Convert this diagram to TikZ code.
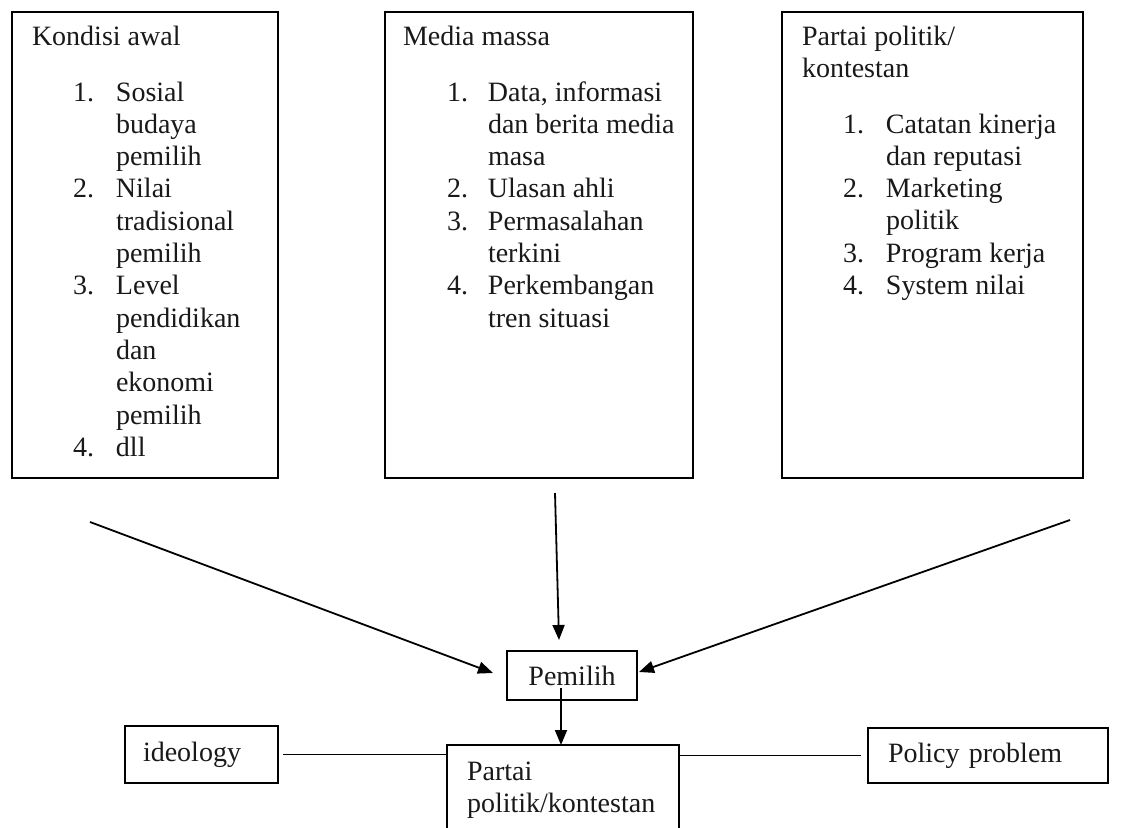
\documentclass[tikz,border=0pt]{standalone}
\usepackage{fontspec}
\setmainfont{Liberation Serif}
\usetikzlibrary{arrows.meta}
\begin{document}
\begin{tikzpicture}[x=1pt,y=-1pt,
  every node/.style={inner sep=0pt, outer sep=0pt, font=\fontsize{28}{32.3}\selectfont, text=black!90},
  bigbox/.style={draw, line width=1.6pt, anchor=north west},
  smallbox/.style={draw, line width=1.6pt},
  lbl/.style={anchor=base west, align=left},
  arr/.style={line width=1.8pt, -{Triangle[length=15pt,width=12pt]}},
  conn/.style={line width=1.6pt}]
\fill[white] (0,0) rectangle (1132,827);
\useasboundingbox (0,0) rectangle (1132,827);
% top boxes
\node[bigbox, minimum width=266pt, minimum height=466pt] (kondisi) at (12,12) {};
\node[bigbox, minimum width=308pt, minimum height=466pt] (media) at (385,12) {};
\node[bigbox, minimum width=301pt, minimum height=466pt] (partaiTop) at (782,12) {};
% titles
\node[lbl] (t1) at (32,45) {Kondisi awal};
\node[lbl] (t2) at (403,45) {Media massa};
\node[lbl] (t3) at (802,45) {\begin{tabular}[t]{@{}l@{}}Partai politik/\\kontestan\end{tabular}};
% lists
\node[lbl] (l1) at (73,101) {\begin{tabular}[t]{@{}p{43pt}@{}l@{}}
1. & Sosial\\ & budaya\\ & pemilih\\
2. & Nilai\\ & tradisional\\ & pemilih\\
3. & Level\\ & pendidikan\\ & dan\\ & ekonomi\\ & pemilih\\
4. & dll\end{tabular}};
\node[lbl] (l2) at (447,101) {\begin{tabular}[t]{@{}p{41pt}@{}l@{}}
1. & Data, informasi\\ & dan berita media\\ & masa\\
2. & Ulasan ahli\\
3. & Permasalahan\\ & terkini\\
4. & Perkembangan\\ & tren situasi\end{tabular}};
\node[lbl] (l3) at (843,133) {\begin{tabular}[t]{@{}p{43pt}@{}l@{}}
1. & Catatan kinerja\\ & dan reputasi\\
2. & Marketing\\ & politik\\
3. & Program kerja\\
4. & System nilai\end{tabular}};
% lower nodes
\node[smallbox, minimum width=130pt, minimum height=49pt] (pemilih) at (572,675.5) {Pemilih};
\node[bigbox, minimum width=232pt, minimum height=110pt] (partai) at (447,745) {};
\node[lbl] (pt) at (467,780) {\begin{tabular}[t]{@{}l@{}}Partai\\politik/kontestan\end{tabular}};
\node[smallbox, minimum width=153pt, minimum height=57pt, text width=117pt, inner xsep=18pt, align=left] (ideo) at (201.5,754.5) {ideology};
\node[smallbox, minimum width=240pt, minimum height=55pt, text width=200pt, inner xsep=20pt, align=left] (policy) at (988,755.5) {Policy problem};
% connectors
\coordinate (a1) at (90,522);
\coordinate (a2) at (555,493);
\coordinate (a3) at (1070,520);
\draw[arr] (a1) -- (493,673);
\draw[arr] (a2) -- (559,640);
\draw[arr] (a3) -- (639,672);
\coordinate (ps) at (561,688);
\draw[arr] (ps) -- (ps |- partai.north);
\draw[conn, shorten <=5pt] (ideo.east) -- (ideo.east -| partai.west);
\draw[conn, shorten >=7pt] (partai.east |- policy.west) -- (policy.west);
\end{tikzpicture}
\end{document}
